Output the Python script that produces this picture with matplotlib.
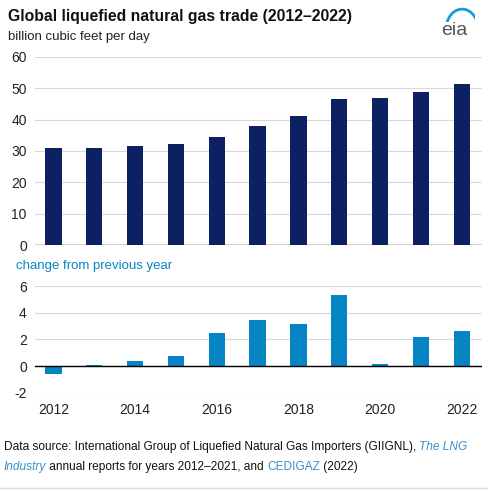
import matplotlib
matplotlib.use("Agg")
import matplotlib.pyplot as plt
from matplotlib.patches import Arc

plt.rcParams['font.family'] = ['Liberation Sans', 'DejaVu Sans']
plt.rcParams['axes.unicode_minus'] = False

# data (billion cubic feet per day)
years = [2012, 2013, 2014, 2015, 2016, 2017, 2018, 2019, 2020, 2021, 2022]
trade = [31.0, 31.1, 31.5, 32.2, 34.6, 38.1, 41.3, 46.7, 46.8, 48.9, 51.5]
change = [-0.6, 0.1, 0.35, 0.75, 2.45, 3.45, 3.15, 5.35, 0.15, 2.15, 2.6]
xticks = [2012, 2014, 2016, 2018, 2020, 2022]

navy = '#0c2062'
blue = '#0585c4'
link = '#3a8fc8'
grid = '#d9d9d9'

fig = plt.figure(figsize=(4.88, 4.91), dpi=100)

# ----- top panel -----
ax1 = fig.add_axes([0.072, 0.501, 0.916, 0.383])
ax1.bar(years, trade, width=0.4, color=navy, zorder=3)
ax1.set_ylim(0, 60)
ax1.set_yticks(range(0, 61, 10))
ax1.set_xlim(2011.55, 2022.5)
ax1.set_xticks([])
ax1.grid(axis='y', color=grid, linewidth=0.8, zorder=0)
ax1.axhline(0, color='#222222', linewidth=1, zorder=4)

# ----- bottom panel -----
ax2 = fig.add_axes([0.072, 0.2, 0.916, 0.2175])
ax2.bar(years, change, width=0.4, color=blue, zorder=3)
ax2.set_ylim(-2, 6)
ax2.set_yticks(range(-2, 7, 2))
ax2.set_xlim(2011.55, 2022.5)
ax2.set_xticks(xticks)
ax2.grid(axis='y', color=grid, linewidth=0.8, zorder=0)
ax2.axhline(0, color='black', linewidth=1, zorder=4)

for ax in (ax1, ax2):
    for s in ax.spines.values():
        s.set_visible(False)
    ax.tick_params(length=0, labelsize=10, colors='#222222', pad=6)
ax2.tick_params(axis='x', pad=7)

# titles
fig.text(0.016, 0.966, 'Global liquefied natural gas trade (2012\u20132022)',
         fontsize=11.3, fontweight='bold', va='center', color='#111111')
fig.text(0.016, 0.925, 'billion cubic feet per day', fontsize=9.5,
         va='center', color='#222222')
fig.text(0.032, 0.458, 'change from previous year', fontsize=9.5,
         va='center', color=blue)

# eia logo
fig.text(0.93, 0.938, 'eia', fontsize=14, color='#555555', ha='center', va='center')
lax = fig.add_axes([0.908, 0.955, 0.065, 0.033])
lax.set_xlim(0, 1)
lax.set_ylim(0, 1)
lax.axis('off')
lax.add_patch(Arc((0.6, -0.4), 1.0, 2.4, theta1=0, theta2=150, color='#1a9ad6', linewidth=2))

# footer: pieces laid out one after another
fs = 8.55
fig.canvas.draw()
r = fig.canvas.get_renderer()


def piece(x, y, s, **kw):
    t = fig.text(x, y, s, fontsize=fs, va='center', **kw)
    return t.get_window_extent(r).x1 / fig.bbox.width


x = piece(0.008, 0.089, 'Data source: International Group of Liquefied Natural Gas Importers (GIIGNL), ',
          color='#111111')
piece(x, 0.089, 'The LNG', color=link, style='italic')
x = piece(0.008, 0.049, 'Industry', color=link, style='italic')
x = piece(x, 0.049, ' annual reports for years 2012\u20132021, and ', color='#111111')
x = piece(x, 0.049, 'CEDIGAZ', color=link)
piece(x, 0.049, ' (2022)', color='#111111')

fig.add_artist(plt.Line2D([0, 1], [0.006, 0.006], color='#dddddd', linewidth=1,
                          transform=fig.transFigure))

fig.savefig('out.png', dpi=100)
